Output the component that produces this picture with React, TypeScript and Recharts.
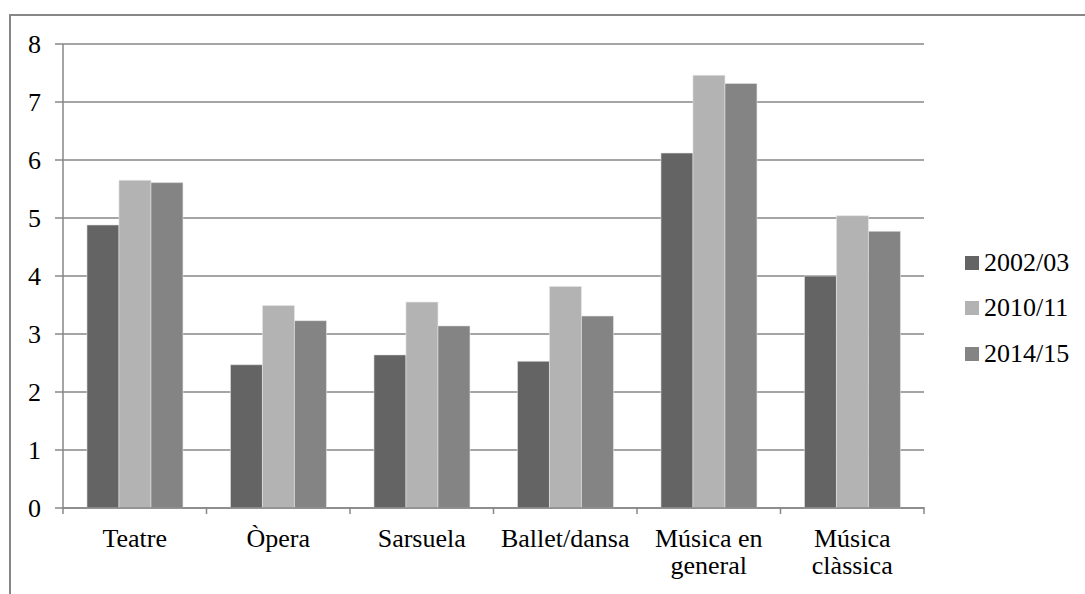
import React from 'react';
import { BarChart, Bar, XAxis, YAxis, CartesianGrid } from 'recharts';

const CATEGORIES = ['Teatre', 'Òpera', 'Sarsuela', 'Ballet/dansa', 'Música en general', 'Música clàssica'];
const S2002 = [4.88, 2.47, 2.64, 2.53, 6.12, 4.0];
const S2010 = [5.65, 3.49, 3.55, 3.82, 7.46, 5.04];
const S2014 = [5.61, 3.23, 3.14, 3.31, 7.32, 4.77];
const Y_TICKS = [0, 1, 2, 3, 4, 5, 6, 7, 8];

const SERIES = [
  { key: 's2002', name: '2002/03', color: '#646464' },
  { key: 's2010', name: '2010/11', color: '#b3b3b3' },
  { key: 's2014', name: '2014/15', color: '#848484' },
];

const data = CATEGORIES.map((name, i) => ({
  name,
  s2002: S2002[i],
  s2010: S2010[i],
  s2014: S2014[i],
}));

const FONT = '"Liberation Serif", "Times New Roman", serif';
const FONT_SIZE = 26;
const LINE = '#878787';

let ctx: CanvasRenderingContext2D | null = null;
const textWidth = (s: string) => {
  if (!ctx) ctx = document.createElement('canvas').getContext('2d');
  if (!ctx) return s.length * 12;
  ctx.font = `${FONT_SIZE}px ${FONT}`;
  return ctx.measureText(s).width;
};

// greedy word wrap, like the spreadsheet does for category labels
const wrap = (label: string, max: number) => {
  const lines: string[] = [];
  let cur = '';
  label.split(' ').forEach((w) => {
    const next = cur ? `${cur} ${w}` : w;
    if (cur && textWidth(next) > max) {
      lines.push(cur);
      cur = w;
    } else {
      cur = next;
    }
  });
  if (cur) lines.push(cur);
  return lines;
};

const CategoryTick = (props: any) => {
  const { x, y, payload, index } = props;
  const band = 861 / CATEGORIES.length;
  const axisY = y - 9;
  const lines = wrap(String(payload.value), band - 4);
  return (
    <g>
      <line x1={x - band / 2} y1={axisY} x2={x - band / 2} y2={axisY + 7} stroke={LINE} strokeWidth={1.5} />
      {index === CATEGORIES.length - 1 && (
        <line x1={x + band / 2} y1={axisY} x2={x + band / 2} y2={axisY + 7} stroke={LINE} strokeWidth={1.5} />
      )}
      <text x={x} y={axisY + 40} textAnchor="middle" fontSize={FONT_SIZE} fontFamily={FONT} fill="#000">
        {lines.map((l, i) => (
          <tspan key={i} x={x} dy={i === 0 ? 0 : 27}>
            {l}
          </tspan>
        ))}
      </text>
    </g>
  );
};

const LegendBox = () => (
  <div style={{ position: 'absolute', left: 965, top: 240, fontFamily: FONT, fontSize: FONT_SIZE, color: '#000' }}>
    {SERIES.map((s) => (
      <div key={s.key} style={{ display: 'flex', alignItems: 'center', height: 45.5 }}>
        <div style={{ width: 14, height: 14, background: s.color, marginRight: 5 }} />
        <span>{s.name}</span>
      </div>
    ))}
  </div>
);

export default function App() {
  return (
    <div style={{ position: 'absolute', left: 0, top: 0, width: 1085, height: 594, overflow: 'hidden', background: '#fff' }}>
      <div
        style={{
          position: 'absolute',
          left: 9,
          top: 14,
          width: 1200,
          height: 700,
          border: `2px solid ${LINE}`,
          boxSizing: 'border-box',
        }}
      />
      <div style={{ position: 'absolute', left: 0, top: 0 }}>
        <BarChart
          width={1085}
          height={594}
          data={data}
          margin={{ top: 44, right: 161, left: 0, bottom: 0 }}
          barCategoryGap="16.7%"
          barGap={0}
        >
          <CartesianGrid vertical={false} stroke={LINE} strokeWidth={1.5} />
          <XAxis
            dataKey="name"
            height={86}
            axisLine={{ stroke: LINE, strokeWidth: 1.5 }}
            tickLine={false}
            interval={0}
            tick={<CategoryTick />}
          />
          <YAxis
            width={63}
            domain={[0, 8]}
            ticks={Y_TICKS}
            interval={0}
            axisLine={{ stroke: LINE, strokeWidth: 1.5 }}
            tickLine={{ stroke: LINE, strokeWidth: 1.5 }}
            tickSize={8}
            tickMargin={14}
            tick={{ fill: '#000', fontSize: FONT_SIZE, fontFamily: FONT }}
          />
          {SERIES.map((s) => (
            <Bar
              key={s.key}
              dataKey={s.key}
              name={s.name}
              fill={s.color}
              stroke="#e6e6e6"
              strokeWidth={0.6}
              isAnimationActive={false}
            />
          ))}
        </BarChart>
      </div>
      <LegendBox />
    </div>
  );
}
